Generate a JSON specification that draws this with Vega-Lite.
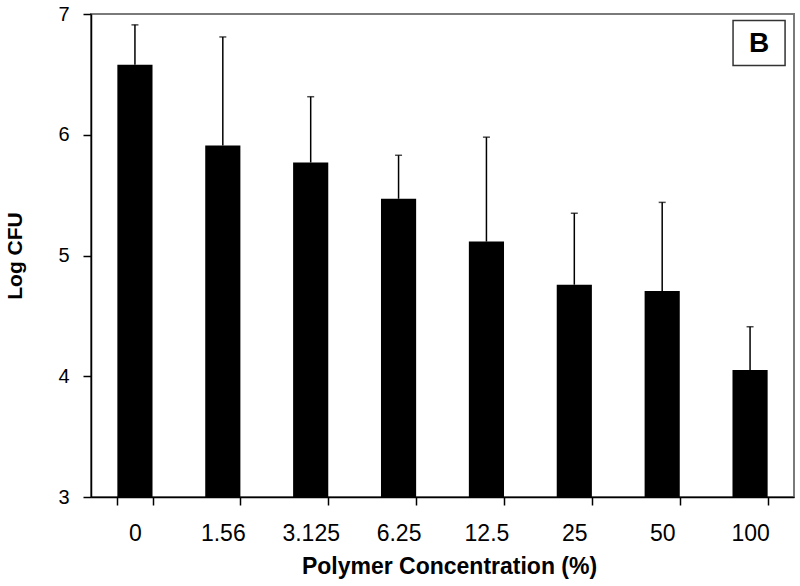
{
  "$schema": "https://vega.github.io/schema/vega-lite/v6.json",
  "autosize": "none",
  "width": 703,
  "height": 483,
  "padding": {"left": 91, "top": 14, "right": 6, "bottom": 89},
  "background": "white",
  "config": {
    "view": {"stroke": "#7a7a7a", "strokeWidth": 2},
    "font": "Liberation Sans",
    "axis": {"grid": false, "domainColor": "#000000", "tickColor": "#000000", "labelColor": "#000000", "titleColor": "#000000", "labelFont": "Liberation Sans", "titleFont": "Liberation Sans"}
  },
  "data": {
    "values": [
      {"conc": "0", "mean": 6.58, "upper": 6.91},
      {"conc": "1.56", "mean": 5.91, "upper": 6.81},
      {"conc": "3.125", "mean": 5.77, "upper": 6.315},
      {"conc": "6.25", "mean": 5.47, "upper": 5.83},
      {"conc": "12.5", "mean": 5.115, "upper": 5.98},
      {"conc": "25", "mean": 4.758, "upper": 5.35},
      {"conc": "50", "mean": 4.706, "upper": 5.44},
      {"conc": "100", "mean": 4.052, "upper": 4.41}
    ]
  },
  "encoding": {
    "x": {
      "field": "conc",
      "type": "nominal",
      "sort": null,
      "scale": {"paddingInner": 0.6, "paddingOuter": 0.3},
      "axis": {
        "title": "Polymer Concentration (%)",
        "titleFontSize": 23,
        "titleFontWeight": "bold",
        "titlePadding": 10,
        "titleX": 358,
        "labelAngle": 0,
        "labelFontSize": 23,
        "labelPadding": 17,
        "tickSize": 8,
        "tickWidth": 1.5,
        "domainWidth": 1.5,
        "tickBand": "extent"
      }
    }
  },
  "layer": [
    {
      "mark": {"type": "rule", "color": "#000000", "strokeWidth": 1.5},
      "encoding": {
        "y": {"field": "mean", "type": "quantitative"},
        "y2": {"field": "upper"}
      }
    },
    {
      "mark": {"type": "tick", "color": "#000000", "thickness": 1.5, "size": 7, "orient": "horizontal"},
      "encoding": {
        "y": {"field": "upper", "type": "quantitative"}
      }
    },
    {
      "mark": {"type": "bar", "color": "#000000"},
      "encoding": {
        "y": {
          "field": "mean",
          "type": "quantitative",
          "scale": {"domain": [3, 7], "zero": false, "nice": false},
          "axis": {
            "title": "Log CFU",
            "titleFontSize": 21,
            "titleFontWeight": "bold",
            "titlePadding": 32,
            "values": [3, 4, 5, 6, 7],
            "format": "d",
            "labelFontSize": 20,
            "labelPadding": 14,
            "tickSize": 8,
            "tickWidth": 1.5,
            "domainWidth": 1.5
          }
        },
        "y2": {"datum": 3}
      }
    },
    {
      "data": {"values": [{"conc": "100", "y": 6.76, "label": "B"}]},
      "mark": {"type": "point", "shape": "M-1.156,-1L1.156,-1L1.156,1L-1.156,1Z", "size": 2025, "filled": false, "stroke": "#333333", "strokeWidth": 1.5, "opacity": 1, "xOffset": 9},
      "encoding": {
        "y": {"field": "y", "type": "quantitative"}
      }
    },
    {
      "data": {"values": [{"conc": "100", "y": 6.76, "label": "B"}]},
      "mark": {"type": "text", "font": "Liberation Sans", "fontWeight": "bold", "fontSize": 28, "color": "#000000", "xOffset": 9, "baseline": "middle", "align": "center", "dy": 1},
      "encoding": {
        "y": {"field": "y", "type": "quantitative"},
        "text": {"field": "label"}
      }
    }
  ]
}
